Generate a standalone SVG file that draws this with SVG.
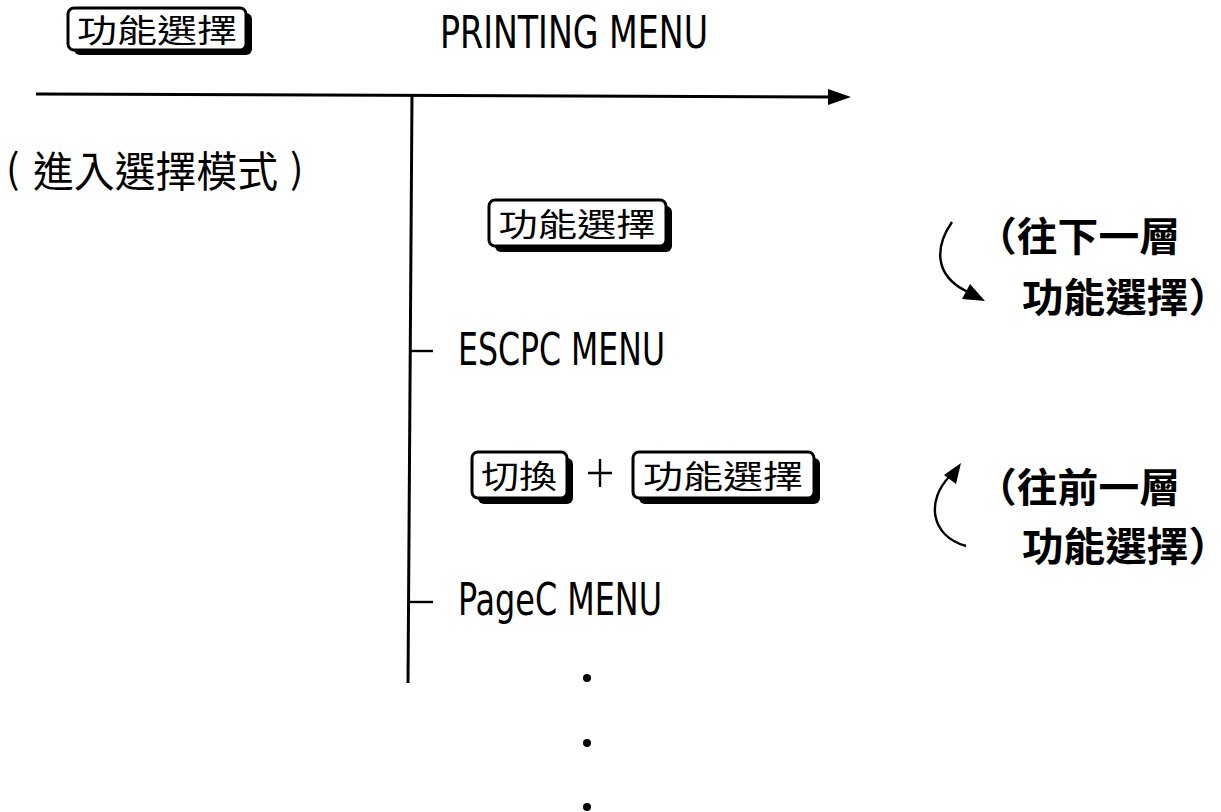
<svg xmlns="http://www.w3.org/2000/svg" width="1221" height="812" viewBox="0 0 1221 812">
<style>
.mono{font-family:"DejaVu Sans Condensed","DejaVu Sans",sans-serif;fill:#000}
.cjk{font-family:"Noto Sans CJK TC","Noto Sans CJK SC",sans-serif;fill:#000}
.bold{font-weight:700}
.reg{font-weight:400}
.keyface{fill:#fff;stroke:#000;stroke-width:3}
.keyshadow{fill:#000}
.ln{stroke:#000;stroke-width:3;fill:none}
.thin{stroke:#000;stroke-width:2.4;fill:none}
</style>

<g id="connectors">
<line class="ln" x1="36" y1="94" x2="832" y2="97"/>
<path d="M828,89 L851,97 L828,105 z" fill="#000"/>
<line class="ln" x1="412" y1="94" x2="408" y2="683"/>
<line class="thin" x1="409" y1="351" x2="433" y2="351"/>
<line class="thin" x1="408" y1="602" x2="433" y2="602"/>
<path class="thin" d="M952,222 C936,245 932,275 968,292"/>
<path d="M985,301 L962,299 L970,284 z" fill="#000"/>
<path class="thin" d="M966,546 C930,536 926,500 950,476"/>
<path d="M961,463 L956,484 L944,475 z" fill="#000"/>
</g>

<g id="key-top">
<rect class="keyshadow" x="74" y="13" width="178" height="42" rx="6"/>
<rect class="keyface" x="68" y="8" width="178" height="42" rx="6"/>
<text class="cjk" x="157" y="42" font-size="32" text-anchor="middle" textLength="160" lengthAdjust="spacingAndGlyphs">功能選擇</text>
</g>

<g id="title">
<text class="mono" x="440" y="48" font-size="45" textLength="268" lengthAdjust="spacingAndGlyphs">PRINTING MENU</text>
</g>

<g id="enter-mode">
<text class="cjk reg" x="6" y="183" font-size="40">(</text>
<text class="cjk reg" x="33" y="187" font-size="42" textLength="245" lengthAdjust="spacingAndGlyphs">進入選擇模式</text>
<text class="cjk reg" x="290" y="183" font-size="40">)</text>
</g>

<g id="key-middle">
<rect class="keyshadow" x="495" y="206" width="177" height="46" rx="6"/>
<rect class="keyface" x="489" y="200" width="177" height="46" rx="6"/>
<text class="cjk" x="577" y="236" font-size="32" text-anchor="middle" textLength="157" lengthAdjust="spacingAndGlyphs">功能選擇</text>
</g>

<g id="escpc">
<text class="mono" x="458" y="365" font-size="44" textLength="207" lengthAdjust="spacingAndGlyphs">ESCPC MENU</text>
</g>

<g id="key-shift-combo">
<rect class="keyshadow" x="478" y="458" width="95" height="46" rx="6"/>
<rect class="keyface" x="472" y="452" width="95" height="46" rx="6"/>
<text class="cjk" x="519" y="488" font-size="32" text-anchor="middle" textLength="76" lengthAdjust="spacingAndGlyphs">切換</text>
<path class="thin" d="M588,473 H612 M600,459 V487" stroke-width="2"/>
<rect class="keyshadow" x="639" y="458" width="181" height="46" rx="6"/>
<rect class="keyface" x="633" y="452" width="181" height="46" rx="6"/>
<text class="cjk" x="723" y="488" font-size="32" text-anchor="middle" textLength="160" lengthAdjust="spacingAndGlyphs">功能選擇</text>
</g>

<g id="pagec">
<text class="mono" x="458" y="615" font-size="44" textLength="204" lengthAdjust="spacingAndGlyphs">PageC MENU</text>
</g>

<g id="ellipsis">
<circle cx="587" cy="678" r="4"/>
<circle cx="587" cy="743" r="4"/>
<circle cx="587" cy="807" r="4"/>
</g>

<g id="note-next">
<text class="cjk bold" x="976" y="251" font-size="40" textLength="204" lengthAdjust="spacingAndGlyphs">（往下一層</text>
<text class="cjk bold" x="1022" y="312" font-size="40" textLength="208" lengthAdjust="spacingAndGlyphs">功能選擇）</text>
</g>

<g id="note-prev">
<text class="cjk bold" x="976" y="502" font-size="40" textLength="204" lengthAdjust="spacingAndGlyphs">（往前一層</text>
<text class="cjk bold" x="1022" y="561" font-size="40" textLength="208" lengthAdjust="spacingAndGlyphs">功能選擇）</text>
</g>
</svg>
